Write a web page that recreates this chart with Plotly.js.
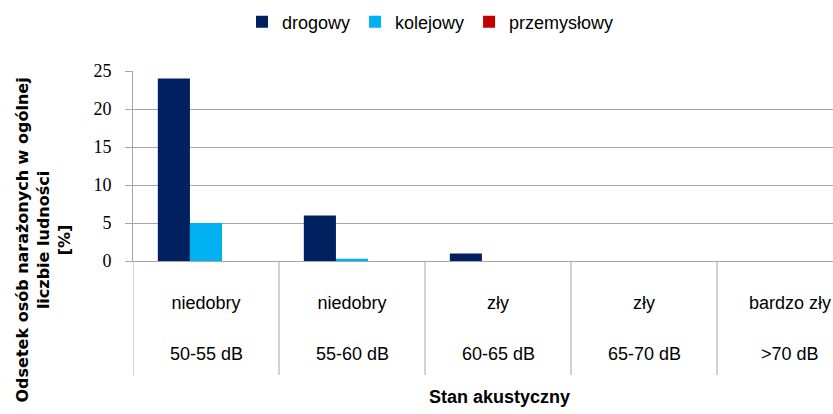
<!DOCTYPE html>
<html>
<head>
<meta charset="utf-8">
<script src="https://cdn.plot.ly/plotly-3.0.1.min.js"></script>
<style>html,body{margin:0;padding:0;background:#fff;}#chart{width:833px;height:414px;}</style>
</head>
<body>
<div id="chart"></div>
<script>
const stanLabels = ['niedobry', 'niedobry', 'zły', 'zły', 'bardzo zły'];
const dbLabels = ['50-55 dB', '55-60 dB', '60-65 dB', '65-70 dB', '>70 dB'];
const drogowy = [24, 6, 1, 0, 0];
const kolejowy = [5, 0.3, 0, 0, 0];
const przemyslowy = [0, 0, 0, 0, 0];
const seriesNames = ['drogowy', 'kolejowy', 'przemysłowy'];
const seriesColors = ['#002060', '#00B0F0', '#C00000'];
const yTitleText = 'Odsetek osób narażonych w ogólnej<br>liczbie ludności<br>[%]';
const xTitleText = 'Stan akustyczny';

const sans = 'Liberation Sans, Arial, sans-serif';
const wideSans = 'DejaVu Sans, Liberation Sans, sans-serif';
const serif = 'Liberation Serif, Times New Roman, serif';
const gridCol = '#a6a6a6';

const xIdx = dbLabels.map((_, i) => i);
const traces = [drogowy, kolejowy, przemyslowy].map((vals, k) => ({
  type: 'bar',
  x: xIdx,
  y: vals,
  name: seriesNames[k],
  marker: {color: seriesColors[k], line: {width: 0}},
  hoverinfo: 'skip'
}));

const shapes = [];
for (let i = 0; i <= dbLabels.length; i++) {
  shapes.push({type: 'line', xref: 'x', yref: 'paper', x0: i - 0.5, x1: i - 0.5,
    y0: 0, y1: -0.6, line: {color: gridCol, width: 1}, layer: 'below'});
}

const annotations = dbLabels.map((t, i) => ({
  text: t, xref: 'x', yref: 'paper', x: i, y: -0.49, xanchor: 'center', yanchor: 'middle',
  showarrow: false, font: {family: sans, size: 18, color: '#000'}
}));
annotations.push({
  text: yTitleText, xref: 'paper', yref: 'paper', x: -0.128, y: 0.11,
  xanchor: 'center', yanchor: 'middle', textangle: -90, showarrow: false,
  font: {family: wideSans, size: 16, color: '#000', weight: 'bold'}
});
annotations.push({
  text: '<b>' + xTitleText + '</b>', xref: 'paper', yref: 'paper', x: 0.523, y: -0.716,
  xanchor: 'center', yanchor: 'middle', showarrow: false,
  font: {family: sans, size: 18, color: '#000'}
});

const layout = {
  width: 833, height: 414,
  margin: {l: 133, r: 0, t: 71, b: 153, pad: 0},
  paper_bgcolor: '#fff', plot_bgcolor: '#fff',
  barmode: 'group', bargap: 0.34, bargroupgap: 0,
  showlegend: true,
  legend: {orientation: 'h', x: 0.425, xanchor: 'center', y: 1.258, yanchor: 'middle',
    font: {family: sans, size: 18, color: '#000'}, itemwidth: 30, traceorder: 'normal'},
  xaxis: {
    type: 'linear', range: [-0.5, -0.5 + 700 / 146], tickmode: 'array',
    tickvals: xIdx, ticktext: stanLabels, ticks: '', showgrid: false, zeroline: false,
    showline: true, linecolor: gridCol, linewidth: 1,
    tickfont: {family: sans, size: 18, color: '#000'}, ticklabelstandoff: 25,
    fixedrange: true
  },
  yaxis: {
    range: [0, 25], tickvals: [0, 5, 10, 15, 20, 25], ticks: 'outside', ticklen: 7,
    tickcolor: gridCol, showgrid: true, gridcolor: gridCol, gridwidth: 1,
    zeroline: false, showline: true, linecolor: gridCol, linewidth: 1,
    tickfont: {family: serif, size: 18, color: '#000'}, ticklabelstandoff: 10,
    fixedrange: true
  },
  shapes: shapes,
  annotations: annotations
};

Plotly.newPlot('chart', traces, layout, {staticPlot: true, displayModeBar: false});
</script>
</body>
</html>
